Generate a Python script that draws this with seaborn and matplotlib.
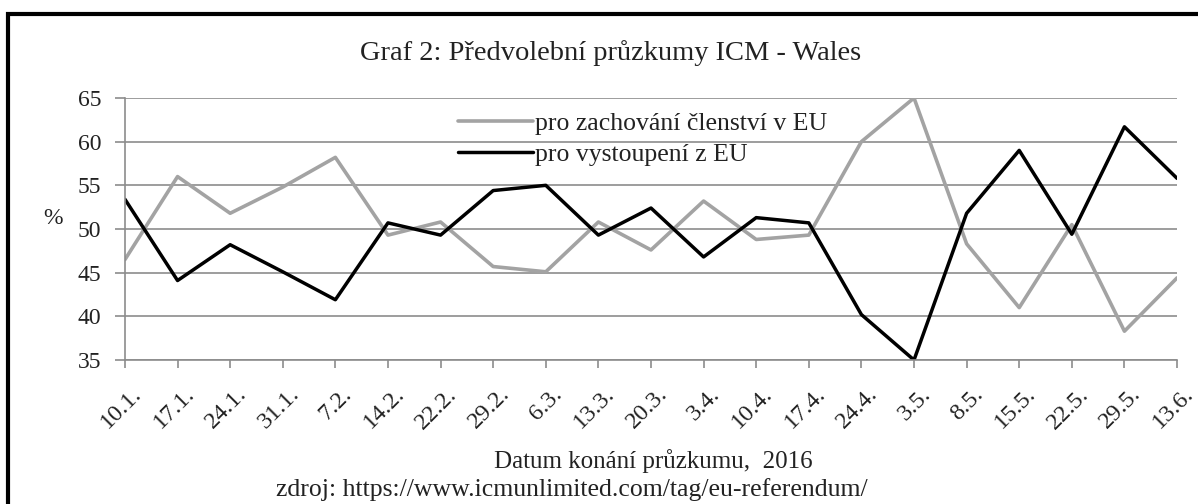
import numpy as np
import pandas as pd
import matplotlib
matplotlib.use("Agg")
import matplotlib.pyplot as plt
import matplotlib.transforms as mtransforms
import seaborn as sns

dates = ["10.1.", "17.1.", "24.1.", "31.1.", "7.2.", "14.2.", "22.2.", "29.2.",
         "6.3.", "13.3.", "20.3.", "3.4.", "10.4.", "17.4.", "24.4.", "3.5.",
         "8.5.", "15.5.", "22.5.", "29.5.", "13.6."]
remain = [46.5, 56.0, 51.8, 54.8, 58.2, 49.3, 50.8, 45.7, 45.1, 50.8, 47.6,
          53.2, 48.8, 49.3, 60.0, 65.0, 48.3, 41.0, 50.5, 38.3, 44.4]
leave = [53.4, 44.1, 48.2, 45.1, 41.9, 50.7, 49.3, 54.4, 55.0, 49.3, 52.4,
         46.8, 51.3, 50.7, 40.2, 35.0, 51.8, 59.0, 49.4, 61.7, 55.8]
series_names = ["pro zachování členství v EU", "pro vystoupení z EU"]
yticks = [35, 40, 45, 50, 55, 60, 65]

sns.set_theme(style="white")
plt.rcParams['font.family'] = ['Liberation Serif', 'DejaVu Serif']

df = pd.DataFrame({"pos": np.arange(len(dates)), "remain": remain, "leave": leave})

fig = plt.figure(figsize=(11.98, 5.04), dpi=100)
ax = fig.add_axes([0.1043, 0.2857, 0.8782, 0.5199])

ax.yaxis.grid(True, color="#8c8c8c", linewidth=1.2)
ax.set_axisbelow(True)

sns.lineplot(data=df, x="pos", y="remain", ax=ax, color="#a3a3a3", linewidth=2.6,
             label=series_names[0])
sns.lineplot(data=df, x="pos", y="leave", ax=ax, color="#000000", linewidth=2.5,
             label=series_names[1])

ax.set_xlim(0, len(dates) - 1)
ax.set_ylim(35, 65)
ax.set_yticks(yticks)
ax.set_yticklabels([str(v) for v in yticks], fontsize=17, color="#222222")
ax.set_xticks(df["pos"])
ax.set_xticklabels(dates, rotation=45, ha="right", rotation_mode="anchor",
                   fontsize=17.5, color="#222222")
ax.tick_params(axis="x", which="major", direction="out", length=6, width=1.2,
               color="#8c8c8c", bottom=True, pad=11)
ax.tick_params(axis="y", which="major", direction="out", length=7, width=1.2,
               color="#8c8c8c", left=True, pad=10)

# nudge the rotated date labels a little to the right, as in the original
shift = mtransforms.ScaledTranslation(6 / 100, 0, fig.dpi_scale_trans)
for lbl in ax.get_xticklabels():
    lbl.set_transform(lbl.get_transform() + shift)

for s in ["top", "right"]:
    ax.spines[s].set_visible(False)
for s in ["left", "bottom"]:
    ax.spines[s].set_color("#8c8c8c")
    ax.spines[s].set_linewidth(1.2)

ax.set_xlabel("")
ax.set_ylabel("%", rotation=0, fontsize=17, color="#222222")
ax.yaxis.set_label_coords(-0.068, 0.5)

leg = ax.legend(loc="upper left", bbox_to_anchor=(0.307, 0.985), frameon=False,
                fontsize=18.5, handlelength=2.9, handletextpad=0.1,
                labelspacing=0.32, borderaxespad=0)
for t in leg.get_texts():
    t.set_color("#222222")

fig.text(0.51, 0.895, "Graf 2: Předvolební průzkumy ICM - Wales", ha="center",
         va="center", fontsize=20.5, color="#222222")
fig.text(0.545, 0.085, "Datum konání průzkumu,  2016", ha="center", va="center",
         fontsize=18, color="#222222")
fig.text(0.477, 0.006, "zdroj: https://www.icmunlimited.com/tag/eu-referendum/",
         ha="center", va="bottom", fontsize=18.5, color="#222222")

# outer frame, running off the right and bottom edges
frame = plt.Rectangle((0.0065, -0.05), 1.1, 0.972 + 0.05, transform=fig.transFigure,
                      fill=False, edgecolor="black", linewidth=3.0)
fig.patches.append(frame)

fig.savefig("out.png", dpi=100)
